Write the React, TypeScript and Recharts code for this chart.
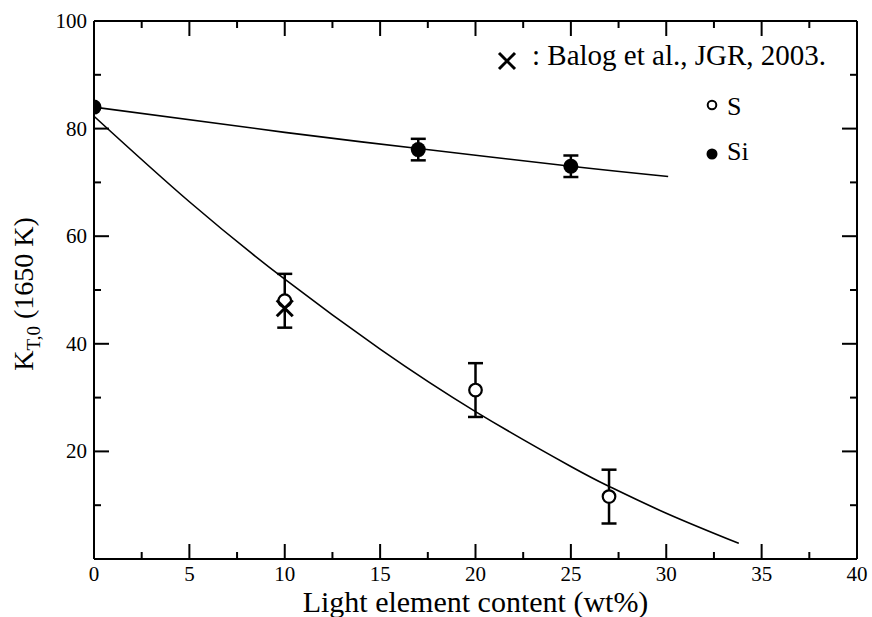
import React from 'react';
import { ComposedChart, XAxis, YAxis, Line, Scatter, ErrorBar } from 'recharts';

// ---- tick values ----
const xMajorTicks = [0, 5, 10, 15, 20, 25, 30, 35, 40];
const xMinorTicks = [2.5, 7.5, 12.5, 17.5, 22.5, 27.5, 32.5, 37.5];
const yMajorTicks = [0, 20, 40, 60, 80, 100];
const yMinorTicks = [10, 30, 50, 70, 90];

// ---- fit curves ----
const siFitX = [0, 10, 17, 25, 30.1];
const siFitY = [84, 79.3, 76.3, 73.0, 71.1];
const sFitX = [0, 5, 10, 15, 20, 25, 27, 30, 33.8];
const sFitY = [82.3, 66.4, 52.0, 39.0, 27.4, 17.2, 13.5, 8.5, 2.9];

// ---- measured points ----
const siX = [0, 17, 25];
const siY = [84, 76.1, 73];
const siErr = [0, 2, 2];
const sX = [10, 20, 27];
const sY = [48, 31.4, 11.6];
const sErr = [5, 5, 5];
const balogX = [10];
const balogY = [46.6];

const siFit = siFitX.map((x, i) => ({ x, y: siFitY[i] }));
const sFit = sFitX.map((x, i) => ({ x, y: sFitY[i] }));
const siPts = siX.map((x, i) => ({ x, y: siY[i], err: siErr[i] }));
const sPts = sX.map((x, i) => ({ x, y: sY[i], err: sErr[i] }));
const balogPts = balogX.map((x, i) => ({ x, y: balogY[i] }));

const xTicks = [...xMajorTicks, ...xMinorTicks].sort((a, b) => a - b);
const yTicks = [...yMajorTicks, ...yMinorTicks].sort((a, b) => a - b);

const FONT = 'Liberation Serif';
const MAJOR = 15;
const MINOR = 7;

const BottomTick = (props: any) => {
  const { x, y, payload } = props;
  const v = payload.value;
  const major = xMajorTicks.includes(v);
  return (
    <g>
      <line x1={x} y1={y} x2={x} y2={y - (major ? MAJOR : MINOR)} stroke="#000" strokeWidth={2} />
      {major && (
        <text x={x} y={y + 21.5} textAnchor="middle" fontSize={21} fontFamily={FONT} fill="#000">
          {v}
        </text>
      )}
    </g>
  );
};

const TopTick = (props: any) => {
  const { x, y, payload } = props;
  const major = xMajorTicks.includes(payload.value);
  return <line x1={x} y1={y} x2={x} y2={y + (major ? MAJOR : MINOR)} stroke="#000" strokeWidth={2} />;
};

const LeftTick = (props: any) => {
  const { x, y, payload } = props;
  const v = payload.value;
  const major = yMajorTicks.includes(v);
  return (
    <g>
      <line x1={x} y1={y} x2={x + (major ? MAJOR : MINOR)} y2={y} stroke="#000" strokeWidth={2} />
      {major && v !== 0 && (
        <text x={x - 7} y={y + 7} textAnchor="end" fontSize={21} fontFamily={FONT} fill="#000">
          {v}
        </text>
      )}
    </g>
  );
};

const RightTick = (props: any) => {
  const { x, y, payload } = props;
  const major = yMajorTicks.includes(payload.value);
  return <line x1={x} y1={y} x2={x - (major ? MAJOR : MINOR)} y2={y} stroke="#000" strokeWidth={2} />;
};

const FilledDot = (props: any) => <circle cx={props.cx} cy={props.cy} r={7.5} fill="#000" />;
const OpenDot = (props: any) => (
  <circle cx={props.cx} cy={props.cy} r={6.3} fill="#fff" stroke="#000" strokeWidth={2.2} />
);
const Cross = (props: any) => {
  const { cx, cy } = props;
  const h = 8;
  return (
    <g stroke="#000" strokeWidth={3}>
      <line x1={cx - h} y1={cy - h} x2={cx + h} y2={cy + h} />
      <line x1={cx - h} y1={cy + h} x2={cx + h} y2={cy - h} />
    </g>
  );
};

const axisLine = { stroke: '#000', strokeWidth: 2 };

export default function App() {
  return (
    <div style={{ position: 'absolute', left: 0, top: 0, width: 872, height: 617, background: '#fff' }}>
      <ComposedChart width={872} height={617} margin={{ top: 0, right: 0, bottom: 0, left: 0 }}>
        <XAxis
          xAxisId={0}
          dataKey="x"
          type="number"
          domain={[0, 40]}
          ticks={xTicks}
          interval={0}
          height={58}
          tickSize={0}
          tickMargin={0}
          tickLine={false}
          axisLine={axisLine}
          tick={<BottomTick />}
          allowDataOverflow
        />
        <XAxis
          xAxisId="top"
          orientation="top"
          dataKey="x"
          type="number"
          domain={[0, 40]}
          ticks={xTicks}
          interval={0}
          height={21}
          tickSize={0}
          tickMargin={0}
          tickLine={false}
          axisLine={axisLine}
          tick={<TopTick />}
          allowDataOverflow
        />
        <YAxis
          yAxisId={0}
          type="number"
          domain={[0, 100]}
          ticks={yTicks}
          interval={0}
          width={94}
          tickSize={0}
          tickMargin={0}
          tickLine={false}
          axisLine={axisLine}
          tick={<LeftTick />}
          allowDataOverflow
        />
        <YAxis
          yAxisId="right"
          orientation="right"
          type="number"
          domain={[0, 100]}
          ticks={yTicks}
          interval={0}
          width={15}
          tickSize={0}
          tickMargin={0}
          tickLine={false}
          axisLine={axisLine}
          tick={<RightTick />}
          allowDataOverflow
        />
        <Line
          data={siFit}
          dataKey="y"
          type="natural"
          stroke="#000"
          strokeWidth={1.6}
          dot={false}
          activeDot={false}
          isAnimationActive={false}
        />
        <Line
          data={sFit}
          dataKey="y"
          type="natural"
          stroke="#000"
          strokeWidth={1.6}
          dot={false}
          activeDot={false}
          isAnimationActive={false}
        />
        <Scatter data={siPts} dataKey="y" shape={<FilledDot />} isAnimationActive={false}>
          <ErrorBar dataKey="err" direction="y" width={7.5} stroke="#000" strokeWidth={2.5} />
        </Scatter>
        <Scatter data={sPts} dataKey="y" shape={<OpenDot />} isAnimationActive={false}>
          <ErrorBar dataKey="err" direction="y" width={7.5} stroke="#000" strokeWidth={2.5} />
        </Scatter>
        <Scatter data={balogPts} dataKey="y" shape={<Cross />} isAnimationActive={false} />
      </ComposedChart>
      <svg
        width={872}
        height={617}
        style={{ position: 'absolute', left: 0, top: 0, pointerEvents: 'none' }}
      >
        {/* legend */}
        <g stroke="#000" strokeWidth={3}>
          <line x1={499} y1={53} x2={515} y2={69} />
          <line x1={499} y1={69} x2={515} y2={53} />
        </g>
        <text x={532} y={65} fontSize={29} fontFamily={FONT} fill="#000">
          : Balog et al., JGR, 2003.
        </text>
        <circle cx={712} cy={105} r={4.3} fill="#fff" stroke="#000" strokeWidth={2} />
        <text x={727} y={115} fontSize={26} fontFamily={FONT} fill="#000">
          S
        </text>
        <circle cx={712} cy={154} r={5.5} fill="#000" />
        <text x={727} y={160} fontSize={26} fontFamily={FONT} fill="#000">
          Si
        </text>
        {/* axis titles */}
        <text x={475.5} y={612} textAnchor="middle" fontSize={30} fontFamily={FONT} fill="#000">
          Light element content (wt%)
        </text>
        <text
          x={0}
          y={0}
          transform="translate(33,294) rotate(-90)"
          textAnchor="middle"
          fontSize={28}
          fontFamily={FONT}
          fill="#000"
        >
          K
          <tspan fontSize={19} dy={7}>T,0</tspan>
          <tspan dy={-7}> (1650 K)</tspan>
        </text>
      </svg>
    </div>
  );
}
